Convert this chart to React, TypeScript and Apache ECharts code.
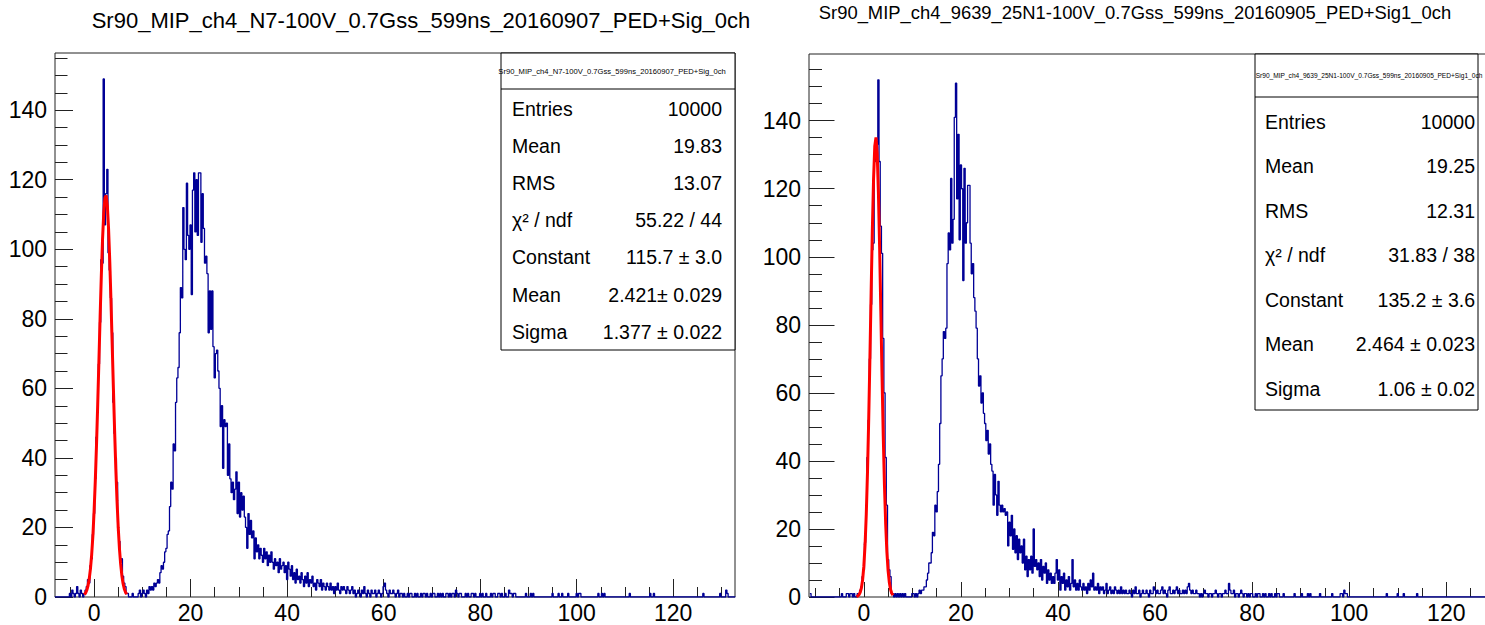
import { useEffect, useRef } from "react";
import * as echarts from "echarts";

const FONT = '"Liberation Sans", Arial, Helvetica, sans-serif';
const BLUE = "#000096";
const RED = "#ff0000";
const FRAME = "#222222";

const leftTitle = "Sr90_MIP_ch4_N7-100V_0.7Gss_599ns_20160907_PED+Sig_0ch";
const rightTitle = "Sr90_MIP_ch4_9639_25N1-100V_0.7Gss_599ns_20160905_PED+Sig1_0ch";

// histogram binning: bin centres start at firstCenter, width binWidth (one row = 5 units)
const binWidth = 0.25;
const leftFirstCenter = -8.0;
const leftCounts = [
  0, 0, 0, 0, 0, 0, 0, 0, 0, 0, 0, 0, 1, 0, 2, 1, 0, 1, 3, 1,
  0, 2, 1, 0, 1, 2, 3, 5, 4, 9, 11, 18, 24, 34, 46, 53, 67, 79, 97, 96,
  149, 107, 116, 123, 99, 94, 86, 76, 56, 47, 40, 33, 19, 16, 10, 11, 6, 4, 3, 1,
  1, 0, 0, 0, 1, 0, 0, 0, 0, 1, 2, 0, 1, 2, 1, 0, 2, 1, 3, 2,
  3, 2, 4, 3, 4, 5, 4, 7, 9, 8, 10, 13, 14, 18, 19, 26, 33, 31, 44, 42,
  56, 63, 66, 76, 89, 86, 112, 100, 97, 119, 104, 100, 107, 87, 117, 122, 105, 120, 104, 122,
  122, 102, 116, 106, 96, 98, 93, 76, 88, 77, 88, 72, 63, 70, 71, 65, 60, 49, 55, 37,
  51, 49, 50, 35, 44, 34, 30, 33, 28, 31, 36, 24, 33, 23, 30, 25, 29, 23, 20, 14,
  24, 18, 22, 17, 19, 11, 17, 13, 15, 11, 14, 12, 10, 14, 11, 13, 9, 12, 10, 13,
  10, 8, 11, 9, 10, 7, 11, 8, 9, 10, 7, 9, 5, 10, 8, 6, 9, 5, 7, 4,
  8, 5, 6, 4, 7, 5, 3, 6, 4, 7, 3, 5, 4, 6, 3, 4, 2, 5, 4, 3,
  5, 2, 4, 3, 2, 4, 3, 2, 4, 2, 3, 1, 3, 2, 4, 2, 1, 3, 2, 3,
  2, 1, 3, 2, 1, 2, 3, 1, 2, 0, 1, 2, 1, 0, 2, 1, 3, 1, 0, 2,
  1, 0, 2, 1, 1, 2, 0, 1, 2, 1, 0, 1, 3, 4, 2, 1, 0, 2, 1, 1,
  2, 1, 0, 1, 2, 0, 1, 1, 0, 1, 0, 0, 1, 0, 1, 1, 0, 0, 1, 0,
  1, 0, 0, 1, 0, 1, 1, 0, 1, 0, 0, 1, 0, 1, 1, 0, 0, 1, 0, 1,
  0, 1, 0, 0, 1, 1, 0, 1, 0, 1, 1, 0, 2, 1, 0, 1, 1, 0, 0, 0,
  1, 0, 1, 0, 0, 1, 1, 0, 1, 0, 0, 0, 1, 0, 1, 0, 0, 1, 0, 0,
  0, 1, 0, 1, 1, 0, 0, 1, 1, 0, 1, 0, 0, 1, 0, 0, 2, 1, 1, 0,
  1, 1, 0, 0, 0, 0, 0, 0, 0, 0, 1, 0, 0, 0, 1, 0, 1, 0, 0, 0,
  0, 0, 0, 0, 0, 0, 0, 0, 0, 0, 0, 0, 1, 0, 0, 0, 0, 1, 0, 0,
  1, 0, 0, 0, 0, 1, 0, 0, 0, 0, 0, 0, 1, 0, 1, 1, 0, 0, 0, 0,
  0, 0, 0, 0, 0, 0, 0, 0, 0, 0, 1, 0, 0, 1, 0, 1, 0, 0, 0, 0,
  0, 0, 0, 0, 0, 0, 0, 0, 0, 0, 0, 0, 0, 0, 0, 0, 1, 0, 0, 0,
  0, 0, 0, 0, 0, 0, 0, 0, 0, 0, 0, 0, 0, 1, 0, 0, 1, 0, 0, 0,
  0, 0, 0, 0, 0, 0, 0, 0, 0, 0, 0, 0, 0, 0, 0, 0, 0, 0, 0, 0,
  0, 0, 0, 0, 0, 0, 0, 0, 0, 0, 0, 0, 0, 0, 0, 0, 0, 1, 0, 0,
  0, 0, 0, 0, 0, 0, 0, 0, 0, 0, 0, 1, 0, 0, 0, 0, 2, 1, 0, 0,
  0, 0, 0, 0,
];

const rightFirstCenter = -11.0;
const rightCounts = [
  1, 0, 0, 0, 0, 0, 0, 0, 0, 0, 0, 0, 0, 0, 0, 0, 0, 0, 0, 0,
  0, 0, 0, 0, 0, 0, 1, 0, 0, 0, 1, 1, 0, 1, 1, 0, 1, 0, 0, 1,
  1, 2, 3, 6, 8, 16, 27, 41, 52, 70, 86, 102, 104, 128, 134, 133, 152, 128, 109, 101,
  76, 60, 41, 27, 11, 8, 6, 1, 1, 0, 1, 0, 1, 0, 1, 0, 1, 0, 1, 0,
  0, 0, 0, 0, 1, 1, 0, 1, 0, 1, 2, 1, 2, 2, 3, 3, 5, 7, 10, 10,
  13, 19, 18, 27, 25, 31, 39, 51, 65, 70, 78, 76, 79, 98, 107, 102, 123, 104, 111, 141,
  151, 117, 136, 105, 127, 120, 93, 126, 104, 110, 121, 121, 104, 95, 98, 88, 84, 79, 70, 62,
  65, 57, 60, 54, 51, 46, 49, 42, 45, 39, 37, 27, 36, 30, 24, 34, 27, 25, 27, 25,
  26, 24, 25, 15, 22, 18, 24, 14, 20, 13, 18, 11, 17, 13, 15, 10, 17, 8, 12, 6,
  11, 8, 12, 7, 20, 9, 11, 8, 10, 6, 11, 5, 9, 7, 10, 4, 8, 5, 7, 4,
  6, 4, 7, 11, 5, 8, 2, 6, 4, 7, 2, 5, 3, 6, 2, 4, 11, 3, 5, 2,
  4, 2, 5, 3, 2, 4, 2, 3, 1, 4, 2, 5, 3, 7, 2, 3, 2, 4, 1, 3,
  2, 3, 1, 2, 4, 1, 2, 3, 1, 2, 1, 3, 2, 1, 2, 1, 3, 1, 2, 1,
  2, 1, 1, 2, 1, 0, 2, 1, 3, 1, 1, 2, 0, 1, 2, 1, 1, 2, 1, 0,
  2, 1, 1, 3, 2, 1, 2, 1, 1, 2, 3, 1, 2, 1, 0, 2, 3, 1, 1, 2,
  1, 2, 3, 1, 2, 1, 1, 2, 1, 2, 1, 3, 4, 2, 1, 2, 1, 1, 2, 1,
  1, 0, 1, 0, 1, 2, 1, 1, 0, 1, 1, 0, 1, 1, 2, 1, 0, 1, 1, 0,
  1, 1, 2, 1, 1, 4, 2, 1, 1, 2, 0, 1, 1, 0, 1, 2, 1, 0, 1, 1,
  0, 1, 0, 1, 1, 0, 0, 1, 0, 1, 1, 0, 0, 1, 0, 1, 0, 0, 1, 0,
  1, 0, 0, 1, 0, 1, 1, 0, 0, 0, 1, 0, 0, 0, 0, 0, 0, 0, 0, 1,
  0, 0, 0, 0, 0, 1, 0, 0, 0, 0, 1, 0, 1, 0, 0, 0, 0, 0, 0, 0,
  1, 0, 0, 0, 0, 0, 0, 0, 0, 0, 1, 0, 0, 0, 0, 0, 0, 1, 1, 0,
  2, 1, 1, 0, 0, 0, 0, 0, 0, 0, 0, 0, 0, 0, 0, 0, 0, 0, 0, 0,
  0, 0, 0, 0, 0, 0, 0, 0, 0, 0, 0, 0, 0, 0, 0, 1, 0, 0, 0, 0,
  0, 0, 0, 0, 1, 0, 0, 0, 0, 1, 0, 0, 0, 0, 0, 0, 0, 0, 0, 0,
  1, 0, 0, 0, 0, 0, 0, 0, 0, 0, 0, 0, 0, 0, 0, 0, 0, 0, 0, 0,
  0, 0, 0, 0, 0, 0, 0, 0, 0, 0, 0, 0, 0, 0, 0, 0, 0, 0, 0, 0,
  0, 0, 0, 0, 0, 0, 0, 0, 0, 0, 0, 0, 0, 0, 0, 0, 0, 0, 0, 0,
];

// fitted gaussian curves, sampled every fitStep
const fitStep = 0.25;
const leftFitStart = -2.0;
const leftFit = [
  0.67, 1.18, 2.01, 3.31, 5.29, 8.16, 12.2, 17.6, 24.7, 33.4, 43.7, 55.4,
  67.9, 80.6, 92.5, 102.8, 110.4, 114.8, 115.5, 112.4, 105.9, 96.5, 85.1,
  72.6, 60.0, 47.9, 37.0, 27.7, 20.0, 14.0, 9.5, 6.2, 3.9, 2.4, 1.4, 0.8,
];
const rightFitStart = -1.5;
const rightFit = [
  0.12, 0.29, 0.65, 1.36, 2.71, 5.1, 9.07, 15.3, 24.3, 36.6, 52.1, 70.2,
  89.4, 107.8, 122.8, 132.5, 135.1, 130.4, 119.0, 102.7, 83.9, 64.8, 47.3,
  32.7, 21.4, 13.2, 7.7, 4.3, 2.24, 1.1, 0.52,
];

const leftXRange = [-8.1, 132.8];
const rightXRange = [-11.3, 128.8];
const leftYMax = 156.45;
const rightYMax = 159.6;

const xMajorTicks = [0, 20, 40, 60, 80, 100, 120];
const leftXMinorTicks = [-5, 5, 10, 15, 25, 30, 35, 45, 50, 55, 65, 70, 75, 85, 90, 95, 105, 110, 115, 125, 130];
const rightXMinorTicks = [-10, -5, 5, 10, 15, 25, 30, 35, 45, 50, 55, 65, 70, 75, 85, 90, 95, 105, 110, 115, 125];
const yMajorTicks = [0, 20, 40, 60, 80, 100, 120, 140];
const yMinorTicks = [5, 10, 15, 25, 30, 35, 45, 50, 55, 65, 70, 75, 85, 90, 95, 105, 110, 115, 125, 130, 135, 145, 150, 155];

const leftStatLabels = ["Entries", "Mean", "RMS", "χ² / ndf", "Constant", "Mean", "Sigma"];
const leftStatValues = ["10000", "19.83", "13.07", "55.22 / 44", "115.7 ± 3.0", "2.421± 0.029", "1.377 ± 0.022"];
const rightStatLabels = ["Entries", "Mean", "RMS", "χ² / ndf", "Constant", "Mean", "Sigma"];
const rightStatValues = ["10000", "19.25", "12.31", "31.83 / 38", "135.2 ± 3.6", "2.464 ± 0.023", "1.06 ± 0.02"];

function histPoints(firstCenter: number, counts: number[]) {
  const pts: number[][] = [];
  counts.forEach((c, i) => {
    const lo = firstCenter - binWidth / 2 + i * binWidth;
    pts.push([lo, c], [lo + binWidth, c]);
  });
  return pts;
}

function fitPoints(start: number, vals: number[]) {
  return vals.map((v, i) => [start + i * fitStep, v]);
}

type Box = { left: number; top: number; width: number; height: number };

function axesFor(gi: number, xr: number[], ymax: number, xMinor: number[], yMajLen: number, yMinLen: number, xMajLen: number, xMinLen: number) {
  const tickStyle = { color: FRAME, width: 1 };
  const label = { color: "#000", fontFamily: FONT, fontSize: 23 };
  const hiddenLine = { show: false, onZero: false };
  const x = [
    {
      type: "value", gridIndex: gi, position: "bottom", min: xr[0], max: xr[1],
      axisLine: hiddenLine, splitLine: { show: false },
      axisTick: { show: true, inside: true, length: xMajLen, customValues: xMajorTicks, lineStyle: tickStyle },
      axisLabel: { ...label, margin: 4, customValues: xMajorTicks },
    },
    {
      type: "value", gridIndex: gi, position: "bottom", min: xr[0], max: xr[1],
      axisLine: hiddenLine, splitLine: { show: false },
      axisTick: { show: true, inside: true, length: xMinLen, customValues: xMinor, lineStyle: tickStyle },
      axisLabel: { show: false },
    },
  ];
  const y = [
    {
      type: "value", gridIndex: gi, position: "left", min: 0, max: ymax,
      axisLine: hiddenLine, splitLine: { show: false },
      axisTick: { show: true, inside: true, length: yMajLen, customValues: yMajorTicks, lineStyle: tickStyle },
      axisLabel: { ...label, margin: 8, customValues: yMajorTicks },
    },
    {
      type: "value", gridIndex: gi, position: "left", min: 0, max: ymax,
      axisLine: hiddenLine, splitLine: { show: false },
      axisTick: { show: true, inside: true, length: yMinLen, customValues: yMinorTicks, lineStyle: tickStyle },
      axisLabel: { show: false },
    },
  ];
  return { x, y };
}

function statsBox(box: Box, headerH: number, title: string, titleSize: number, titleCx: number, labels: string[], values: string[], rowY0: number, rowDy: number, labelX: number, valueX: number): any[] {
  const els: any[] = [
    {
      type: "rect", z: 100,
      shape: { x: box.left, y: box.top, width: box.width, height: box.height },
      style: { fill: "#fff", stroke: "#000", lineWidth: 1 },
    },
    {
      type: "line", z: 101,
      shape: { x1: box.left, y1: box.top + headerH, x2: box.left + box.width, y2: box.top + headerH },
      style: { stroke: "#000", lineWidth: 1 },
    },
    {
      type: "text", z: 102, x: titleCx, y: box.top + headerH / 2,
      style: { text: title, fontFamily: FONT, fontSize: titleSize, fill: "#000", textAlign: "center", textVerticalAlign: "middle" },
    },
  ];
  labels.forEach((lab, i) => {
    const yy = rowY0 + i * rowDy;
    els.push({
      type: "text", z: 102, x: labelX, y: yy,
      style: { text: lab, fontFamily: FONT, fontSize: 19.5, fill: "#000", textAlign: "left", textVerticalAlign: "middle" },
    });
    els.push({
      type: "text", z: 102, x: valueX, y: yy,
      style: { text: values[i], fontFamily: FONT, fontSize: 19.5, fill: "#000", textAlign: "right", textVerticalAlign: "middle" },
    });
  });
  return els;
}

export default function App() {
  const ref = useRef<HTMLDivElement>(null);
  useEffect(() => {
    document.body.style.margin = "0";
    if (!ref.current) return;
    const chart = echarts.init(ref.current, undefined, { renderer: "svg" });

    const gl: Box = { left: 55, top: 53, width: 680, height: 544 };
    const gr: Box = { left: 809, top: 54, width: 680, height: 543 };
    const la = axesFor(0, leftXRange, leftYMax, leftXMinorTicks, 18, 12.5, 18, 10);
    const ra = axesFor(1, rightXRange, rightYMax, rightXMinorTicks, 25.5, 13, 15, 9);

    const gridCommon = { show: true, borderColor: FRAME, borderWidth: 1, backgroundColor: "transparent", containLabel: false, outerBoundsMode: "none" };

    const option: any = {
      animation: false,
      backgroundColor: "#fff",
      textStyle: { fontFamily: FONT },
      grid: [
        { ...gridCommon, left: gl.left, top: gl.top, width: gl.width, height: gl.height },
        { ...gridCommon, left: gr.left, top: gr.top, width: gr.width, height: gr.height },
      ],
      xAxis: [...la.x, ...ra.x],
      yAxis: [...la.y, ...ra.y],
      series: [
        {
          type: "line", name: "left hist", xAxisIndex: 0, yAxisIndex: 0,
          data: histPoints(leftFirstCenter, leftCounts), symbol: "none",
          lineStyle: { color: BLUE, width: 1.3 }, z: 2,
        },
        {
          type: "line", name: "left fit", xAxisIndex: 0, yAxisIndex: 0,
          data: fitPoints(leftFitStart, leftFit), symbol: "none",
          lineStyle: { color: RED, width: 3 }, z: 3,
        },
        {
          type: "line", name: "right hist", xAxisIndex: 2, yAxisIndex: 2,
          data: histPoints(rightFirstCenter, rightCounts), symbol: "none",
          lineStyle: { color: BLUE, width: 1.3 }, z: 2,
        },
        {
          type: "line", name: "right fit", xAxisIndex: 2, yAxisIndex: 2,
          data: fitPoints(rightFitStart, rightFit), symbol: "none",
          lineStyle: { color: RED, width: 3 }, z: 3,
        },
      ],
      graphic: [
        {
          type: "text", x: 421, y: 20,
          style: { text: leftTitle, fontFamily: FONT, fontSize: 22, fill: "#000", textAlign: "center", textVerticalAlign: "middle" },
        },
        {
          type: "text", x: 1135, y: 12,
          style: { text: rightTitle, fontFamily: FONT, fontSize: 18.4, fill: "#000", textAlign: "center", textVerticalAlign: "middle" },
        },
        ...statsBox({ left: 501, top: 53, width: 234, height: 297 }, 36, leftTitle, 7.6, 612, leftStatLabels, leftStatValues, 108.5, 37.2, 512, 722),
        ...statsBox({ left: 1255, top: 54, width: 223, height: 356 }, 43, rightTitle, 6.6, 1369, rightStatLabels, rightStatValues, 121.5, 44.5, 1265, 1475),
      ],
    };
    chart.setOption(option);
    return () => chart.dispose();
  }, []);
  return <div ref={ref} style={{ width: 1485, height: 625 }} />;
}
